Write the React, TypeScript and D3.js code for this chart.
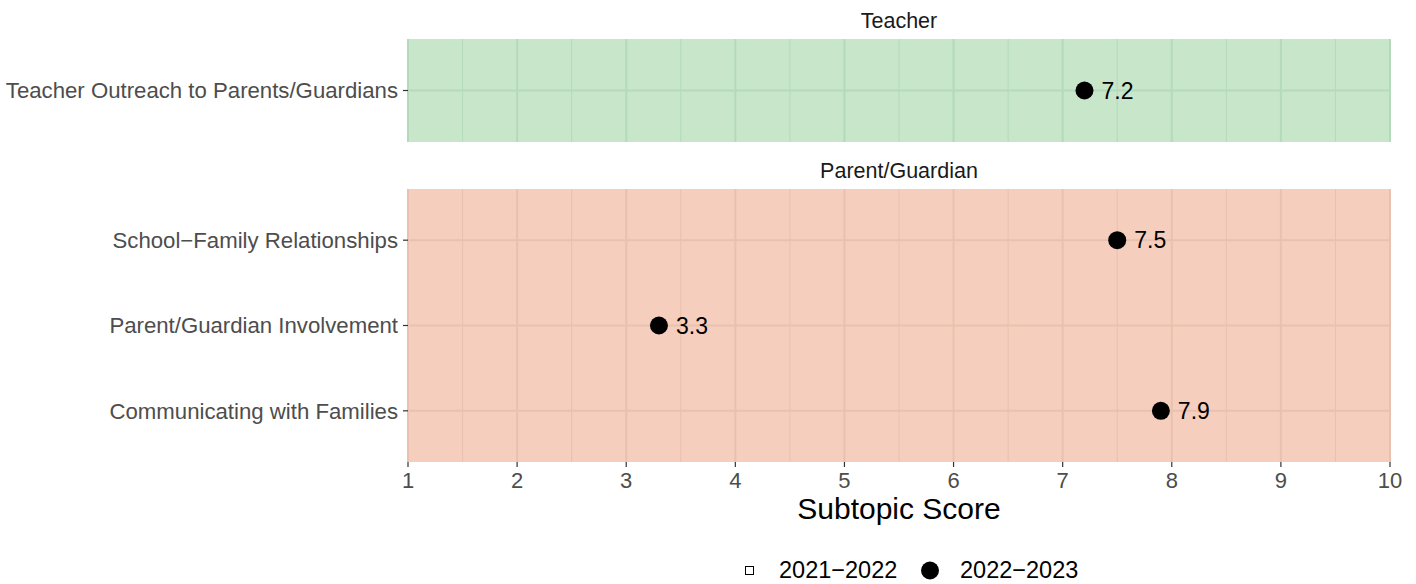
import React from "react";
import * as d3 from "d3";

// panels (facets) and their subtopics, top to bottom
const panels = ["Teacher", "Parent/Guardian"];
const panelFill = ["#c7e6ca", "#f5cebd"];
const panelGrid = ["#b5dabb", "#e9c1b0"];
const teacherTopics = ["Teacher Outreach to Parents/Guardians"];
const teacherScores = [7.2];
const parentTopics = ["School\u2212Family Relationships", "Parent/Guardian Involvement", "Communicating with Families"];
const parentScores = [7.5, 3.3, 7.9];
const xTicks = [1, 2, 3, 4, 5, 6, 7, 8, 9, 10];
const legendLabels = ["2021\u22122022", "2022\u22122023"];

const W = 1416;
const H = 584;
const FONT = "Liberation Sans, Arial, sans-serif";

const App: React.FC = () => {
  const x = d3.scaleLinear().domain([1, 10]).range([408, 1390]);
  const minor = d3.range(1.5, 10, 1);

  const facets = [
    { title: panels[0], topics: teacherTopics, scores: teacherScores, top: 39, bottom: 142, stripY: 28, fill: panelFill[0], grid: panelGrid[0] },
    { title: panels[1], topics: parentTopics, scores: parentScores, top: 189, bottom: 462, stripY: 178, fill: panelFill[1], grid: panelGrid[1] },
  ];

  return (
    <svg width={W} height={H} style={{ display: "block", position: "absolute", left: 0, top: 0 }} fontFamily={FONT}>
      <rect width={W} height={H} fill="#fff" />
      {facets.map((f, fi) => {
        const y = d3
          .scalePoint<string>()
          .domain(f.topics)
          .range([f.top, f.bottom])
          .padding(0.6);
        return (
          <g key={fi}>
            <text x={(x(1) + x(10)) / 2} y={f.stripY} textAnchor="middle" fontSize={21.5} fill="#1a1a1a">
              {f.title}
            </text>
            <rect x={x(1)} y={f.top} width={x(10) - x(1)} height={f.bottom - f.top} fill={f.fill} />
            {minor.map((m) => (
              <line key={"m" + m} x1={x(m)} x2={x(m)} y1={f.top} y2={f.bottom} stroke={f.grid} strokeWidth={1} />
            ))}
            {xTicks.map((t) => (
              <line key={"t" + t} x1={x(t)} x2={x(t)} y1={f.top} y2={f.bottom} stroke={f.grid} strokeWidth={2} />
            ))}
            {f.topics.map((c) => (
              <g key={c}>
                <line x1={x(1)} x2={x(10)} y1={y(c)!} y2={y(c)!} stroke={f.grid} strokeWidth={2} />
                <line x1={x(1) - 5} x2={x(1)} y1={y(c)!} y2={y(c)!} stroke="#333" strokeWidth={1.2} />
                <text x={x(1) - 10} y={y(c)!} dy="0.36em" textAnchor="end" fontSize={22.2} fill="#4d4d4d">
                  {c}
                </text>
              </g>
            ))}
            {f.topics.map((c, i) => (
              <g key={"p" + c}>
                <circle cx={x(f.scores[i])} cy={y(c)!} r={9} fill="#000" />
                <text x={x(f.scores[i]) + 17} y={y(c)!} dy="0.36em" fontSize={23} fill="#000">
                  {f.scores[i].toFixed(1)}
                </text>
              </g>
            ))}
          </g>
        );
      })}
      {/* x axis */}
      {xTicks.map((t) => (
        <g key={"xt" + t}>
          <line x1={x(t)} x2={x(t)} y1={462} y2={467} stroke="#333" strokeWidth={1.2} />
          <text x={x(t)} y={488} textAnchor="middle" fontSize={22} fill="#4d4d4d">
            {t}
          </text>
        </g>
      ))}
      <text x={(x(1) + x(10)) / 2} y={519} textAnchor="middle" fontSize={30} fill="#000">
        Subtopic Score
      </text>
      {/* legend */}
      <rect x={745.5} y={566.5} width={8} height={8} fill="none" stroke="#000" strokeWidth={1} />
      <text x={779} y={578} fontSize={23.5} fill="#000">
        {legendLabels[0]}
      </text>
      <circle cx={930} cy={570.5} r={9} fill="#000" />
      <text x={960} y={578} fontSize={23.5} fill="#000">
        {legendLabels[1]}
      </text>
    </svg>
  );
};

export default App;
